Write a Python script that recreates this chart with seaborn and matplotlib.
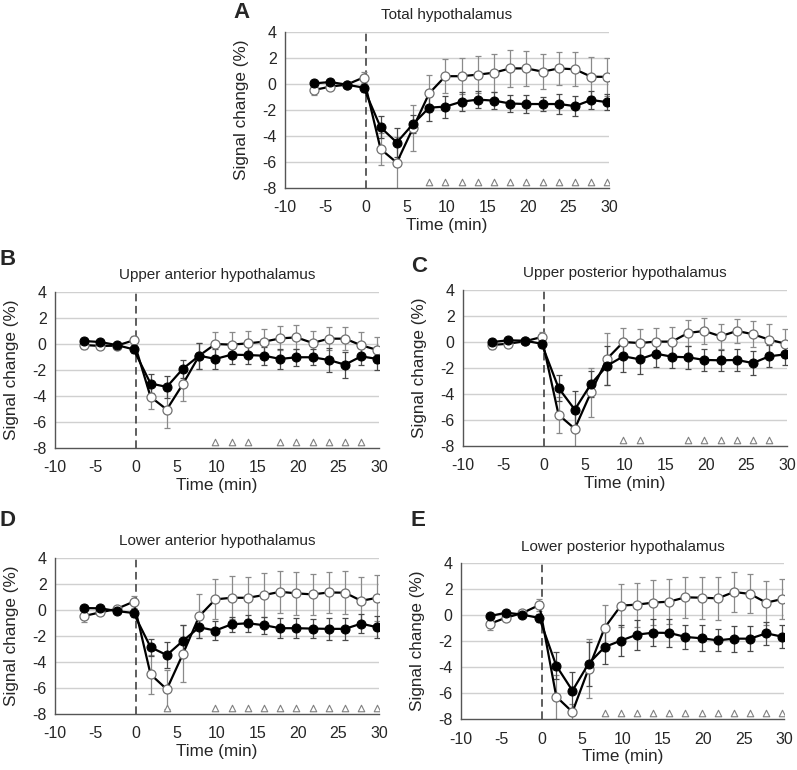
import numpy as np
import pandas as pd
import matplotlib
matplotlib.use("Agg")
import matplotlib.pyplot as plt
import seaborn as sns

# time points (min)
time = [-6.4, -4.4, -2.4, -0.3, 1.8, 3.8, 5.8, 7.8, 9.8, 11.8, 13.8, 15.8,
        17.8, 19.8, 21.8, 23.8, 25.8, 27.8, 29.8]

titles = ["Total hypothalamus", "Upper anterior hypothalamus",
          "Upper posterior hypothalamus", "Lower anterior hypothalamus",
          "Lower posterior hypothalamus"]
letters = ["A", "B", "C", "D", "E"]

# filled circles
filled_a = [0.05, 0.15, -0.05, -0.28, -3.33, -4.5, -3.08, -1.82, -1.74, -1.36, -1.2, -1.28,
            -1.5, -1.54, -1.54, -1.54, -1.7, -1.23, -1.4]
filled_b = [0.23, 0.15, -0.08, -0.41, -3.04, -3.3, -1.9, -0.9, -1.15, -0.82, -0.85, -0.9,
            -1.15, -1.02, -1.02, -1.23, -1.59, -0.95, -1.15]
filled_c = [0.0, 0.13, 0.1, -0.13, -3.54, -5.2, -3.23, -1.82, -1.1, -1.33, -0.9, -1.13,
            -1.18, -1.38, -1.41, -1.38, -1.62, -1.1, -0.95]
filled_d = [0.15, 0.13, -0.08, -0.23, -2.86, -3.47, -2.37, -1.33, -1.58, -1.1, -1.02, -1.17,
            -1.4, -1.4, -1.43, -1.45, -1.45, -1.05, -1.33]
filled_e = [-0.08, 0.18, 0.03, -0.23, -3.9, -5.82, -3.74, -2.46, -1.97, -1.51, -1.36, -1.38,
            -1.69, -1.79, -1.95, -1.82, -1.82, -1.41, -1.67]

# open circles
open_a = [-0.46, -0.2, -0.05, 0.5, -5.0, -6.05, -3.38, -0.72, 0.6, 0.6, 0.72, 0.87,
          1.2, 1.2, 0.95, 1.2, 1.13, 0.56, 0.55]
open_b = [-0.08, -0.15, -0.13, 0.28, -4.07, -5.04, -3.07, -0.9, 0.0, -0.05, 0.05, 0.18,
          0.43, 0.51, 0.08, 0.41, 0.41, -0.1, -0.46]
open_c = [-0.23, -0.13, 0.05, 0.38, -5.6, -6.67, -3.87, -1.28, 0.0, -0.08, 0.03, 0.03,
          0.7, 0.85, 0.44, 0.85, 0.6, 0.18, -0.13]
open_d = [-0.46, -0.18, 0.08, 0.64, -4.95, -6.1, -3.37, -0.48, 0.82, 0.94, 0.94, 1.15,
          1.4, 1.28, 1.2, 1.35, 1.33, 0.71, 0.94]
open_e = [-0.67, -0.2, 0.15, 0.77, -6.28, -7.46, -4.13, -0.97, 0.72, 0.8, 0.95, 1.03,
          1.36, 1.33, 1.28, 1.77, 1.62, 0.95, 1.23]

# error bars (filled)
filled_err_a = [0.2, 0.2, 0.15, 0.3, 0.85, 1.1, 0.7, 1.0, 0.85, 0.75, 0.65, 0.65,
                0.65, 0.7, 0.55, 0.75, 0.75, 0.7, 0.6]
filled_err_b = [0.2, 0.15, 0.15, 0.3, 0.7, 0.85, 0.7, 1.0, 0.8, 0.75, 0.7, 0.7,
                0.75, 0.65, 0.6, 0.9, 1.0, 0.65, 0.85]
filled_err_c = [0.2, 0.15, 0.15, 0.3, 1.0, 1.45, 1.0, 1.5, 1.2, 1.1, 1.0, 0.9,
                0.9, 0.85, 0.8, 0.85, 0.95, 0.85, 0.85]
filled_err_d = [0.2, 0.15, 0.15, 0.3, 0.65, 1.0, 1.2, 0.8, 0.7, 0.6, 0.65, 0.65,
                0.75, 0.75, 0.7, 0.85, 0.85, 0.75, 0.85]
filled_err_e = [0.2, 0.15, 0.15, 0.3, 1.05, 1.4, 1.7, 1.3, 1.2, 1.15, 1.05, 1.05,
                0.95, 1.0, 0.85, 1.0, 0.95, 0.9, 0.9]

# error bars (open)
open_err_a = [0.35, 0.2, 0.1, 0.45, 1.2, 2.0, 1.8, 1.45, 1.3, 1.4, 1.4, 1.45,
              1.4, 1.35, 1.35, 1.3, 1.3, 1.5, 1.45]
open_err_b = [0.3, 0.2, 0.15, 0.35, 0.9, 1.4, 1.3, 1.0, 0.95, 0.95, 0.95, 1.0,
              0.92, 0.92, 0.9, 0.88, 0.88, 1.0, 1.0]
open_err_c = [0.3, 0.2, 0.15, 0.4, 1.4, 1.4, 1.9, 2.0, 1.1, 1.05, 1.05, 1.1,
              1.0, 1.0, 0.95, 0.9, 1.0, 1.2, 1.1]
open_err_d = [0.45, 0.2, 0.15, 0.45, 1.5, 1.5, 2.2, 1.7, 1.55, 1.65, 1.6, 1.7,
              1.6, 1.65, 1.6, 1.6, 1.65, 1.8, 1.75]
open_err_e = [0.45, 0.25, 0.2, 0.45, 1.7, 0.6, 2.25, 1.77, 1.64, 1.7, 1.75, 1.75,
              1.6, 1.6, 1.65, 1.56, 1.5, 1.7, 1.55]

# significance markers (open triangles)
sig_a = [7.8, 9.8, 11.8, 13.8, 15.8, 17.8, 19.8, 21.8, 23.8, 25.8, 27.8, 29.8]
sig_b = [9.8, 11.8, 13.8, 17.8, 19.8, 21.8, 23.8, 25.8, 27.8]
sig_c = [9.8, 11.8, 17.8, 19.8, 21.8, 23.8, 25.8, 27.8]
sig_d = [3.8, 9.8, 11.8, 13.8, 15.8, 17.8, 19.8, 21.8, 23.8, 25.8, 27.8, 29.8]
sig_e = [7.8, 9.8, 11.8, 13.8, 15.8, 17.8, 19.8, 21.8, 23.8, 25.8, 27.8, 29.8]

FIG_W, FIG_H = 797, 770
# axes boxes in pixels: left, top, right, bottom
boxes = [(285, 32, 609, 188), (55, 292, 379, 448), (463, 290, 787, 446),
         (55, 558, 379, 714), (461, 563, 784, 719)]
letter_pos = [(241, 12), (8, 259), (419, 266), (8, 520), (418, 520)]

sns.set_style("white")
plt.rcParams["font.family"] = ["Liberation Sans", "DejaVu Sans"]
plt.rcParams["axes.unicode_minus"] = False


def draw_panel(ax, title, filled, filled_err, open_, open_err, sig):
    df = pd.DataFrame({"time": time, "filled": filled, "open": open_})
    for y in range(-6, 5, 2):
        ax.axhline(y, color="#d0d0d0", lw=1.0, zorder=0)
    ax.axvline(0, color="#333333", lw=1.1, ls=(0, (5, 3)), zorder=1)

    ax.errorbar(time, open_, yerr=open_err, fmt="none", ecolor="#8a8a8a",
                elinewidth=0.9, capsize=2, capthick=0.9, zorder=2)
    ax.errorbar(time, filled, yerr=filled_err, fmt="none", ecolor="#4a4a4a",
                elinewidth=0.9, capsize=2, capthick=0.9, zorder=2)

    sns.lineplot(data=df, x="time", y="open", ax=ax, color="black", lw=1.6,
                 marker="o", markersize=6.5, markerfacecolor="white",
                 markeredgecolor="#707070", markeredgewidth=0.9, zorder=3)
    sns.lineplot(data=df, x="time", y="filled", ax=ax, color="black", lw=1.6,
                 marker="o", markersize=6.5, markerfacecolor="black",
                 markeredgecolor="black", zorder=4)

    sns.scatterplot(x=sig, y=[-7.5] * len(sig), ax=ax, marker="^", s=22,
                    facecolor="white", edgecolor="#808080", linewidth=0.8, zorder=3)

    ax.set_xlim(-10, 30)
    ax.set_ylim(-8, 4)
    ax.set_xticks(range(-10, 31, 5))
    ax.set_yticks(range(-8, 5, 2))
    ax.tick_params(axis="both", labelsize=11.5, length=4, width=1,
                   color="#555555", direction="out", pad=3)
    ax.tick_params(axis="x", pad=5)
    ax.tick_params(axis="y", length=3)
    for s in ["top", "right"]:
        ax.spines[s].set_visible(False)
    for s in ["left", "bottom"]:
        ax.spines[s].set_color("#555555")
        ax.spines[s].set_linewidth(1.0)
    ax.set_title(title, fontsize=11, pad=9)
    ax.set_xlabel("Time (min)", fontsize=12.3, labelpad=2)
    ax.set_ylabel("Signal change (%)", fontsize=12.3)
    ax.yaxis.set_label_coords(-0.11, 0.5)


fig = plt.figure(figsize=(FIG_W / 100, FIG_H / 100), dpi=100)

panels = [
    (filled_a, filled_err_a, open_a, open_err_a, sig_a),
    (filled_b, filled_err_b, open_b, open_err_b, sig_b),
    (filled_c, filled_err_c, open_c, open_err_c, sig_c),
    (filled_d, filled_err_d, open_d, open_err_d, sig_d),
    (filled_e, filled_err_e, open_e, open_err_e, sig_e),
]

for i, (box, (f, fe, o, oe, sg)) in enumerate(zip(boxes, panels)):
    l, t, r, b = box
    ax = fig.add_axes([l / FIG_W, 1 - b / FIG_H, (r - l) / FIG_W, (b - t) / FIG_H])
    draw_panel(ax, titles[i], f, fe, o, oe, sg)
    lx, ly = letter_pos[i]
    fig.text(lx / FIG_W, 1 - ly / FIG_H, letters[i], fontsize=16, fontweight="bold",
             ha="center", va="center")

fig.savefig("out.png", dpi=100)
